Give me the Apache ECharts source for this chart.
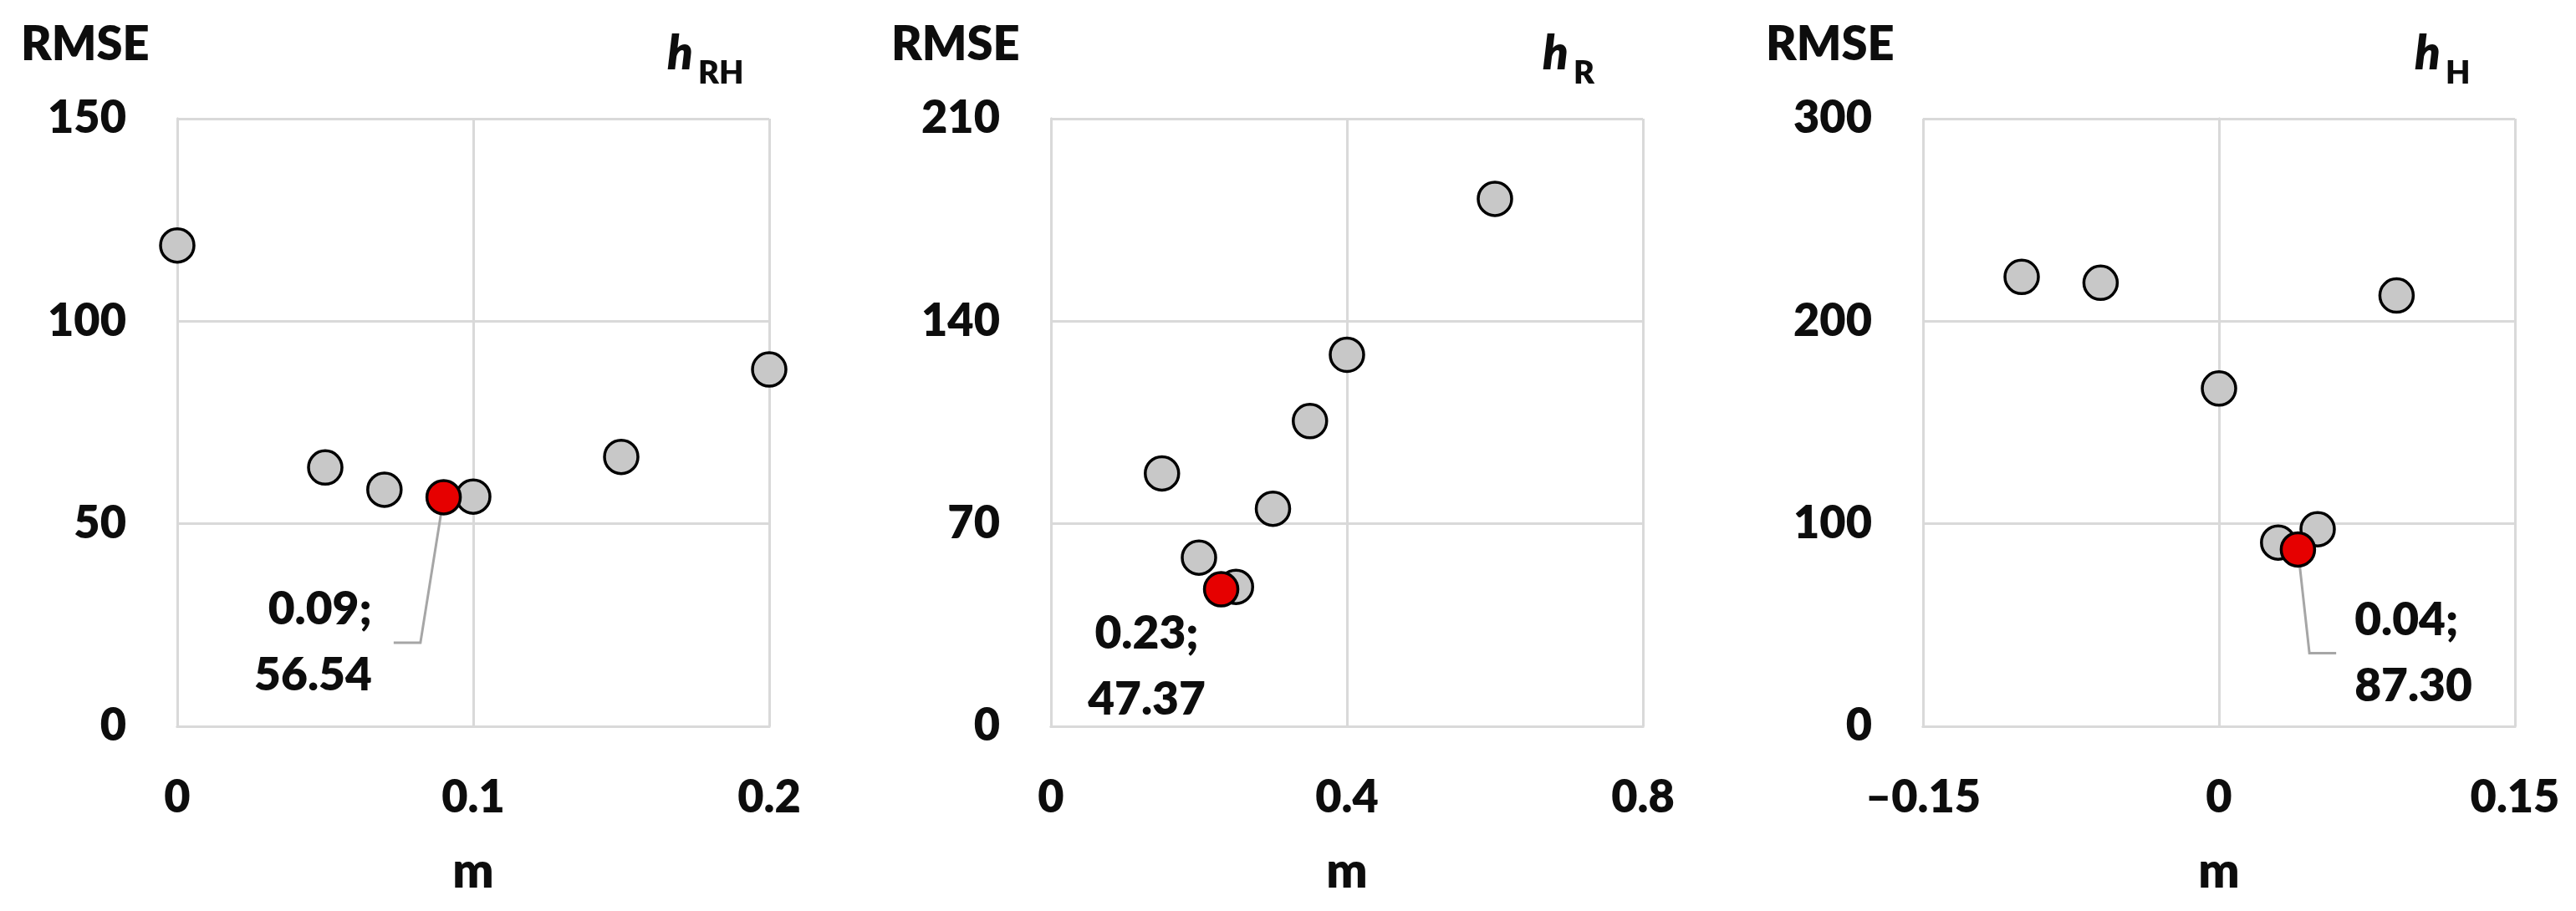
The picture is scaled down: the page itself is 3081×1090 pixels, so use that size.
<!DOCTYPE html>
<html>
<head>
<meta charset="utf-8">
<script src="https://cdn.jsdelivr.net/npm/echarts@6/dist/echarts.min.js"></script>
<style>
  html, body { margin: 0; padding: 0; background: #fff; }
  #chart { width: 3081px; height: 1090px; }
</style>
</head>
<body>
<div id="chart"></div>
<script>
// h_RH panel
const mRH = [0, 0.05, 0.07, 0.10, 0.15, 0.20];
const rmseRH = [118.7, 63.9, 58.4, 56.7, 66.5, 88.1];
const bestRH = [0.09, 56.54];

// h_R panel
const mR = [0.15, 0.20, 0.25, 0.30, 0.35, 0.40, 0.60];
const rmseR = [87.4, 58.3, 48.2, 75.2, 105.5, 128.4, 182.3];
const bestR = [0.23, 47.37];

// h_H panel
const mH = [-0.10, -0.06, 0, 0.03, 0.05, 0.09];
const rmseH = [221.9, 219.0, 166.8, 90.7, 97.3, 212.7];
const bestH = [0.04, 87.30];

// axis ranges: [min, max, interval]
const xRanges = [[0, 0.2, 0.1], [0, 0.8, 0.4], [-0.15, 0.15, 0.15]];
const yRanges = [[0, 150, 50], [0, 210, 70], [0, 300, 100]];
const subs = ['RH', 'R', 'H'];

const FONT = 'Lato';
const W = 800;
const TXT = '#0d0d0d';
const gridLeft = [212, 1257, 2300];
const gridW = 708, gridTop = 142, gridH = 727;
const gridColor = '#d9d9d9';

function zip(xs, ys) {
  return xs.map((x, i) => [x, ys[i]]);
}

function fmtTick(v) {
  if (v < 0) return '\u2013' + String(-v);
  return String(v);
}

let grids = [], xAxes = [], yAxes = [], series = [], graphics = [];

// label placement for the best point in each panel
// (the wide empty padding on the far side keeps the leader line on the near side)
const panels = [
  { pts: zip(mRH, rmseRH), best: bestRH,
    lab: { position: 'left', align: 'right', padding: [0, 26, 0, 160], dx: -38, dy: 174, line: true } },
  { pts: zip(mR, rmseR), best: bestR,
    lab: { position: 'bottom', align: 'center', padding: 0, dx: -89, dy: -8, line: false } },
  { pts: zip(mH, rmseH), best: bestH,
    lab: { position: 'right', align: 'left', padding: [0, 160, 0, 22], dx: 24, dy: 124, line: true } }
];

panels.forEach((p, i) => {
  grids.push({ left: gridLeft[i], top: gridTop, width: gridW, height: gridH });
  xAxes.push({
    type: 'value', gridIndex: i,
    min: xRanges[i][0], max: xRanges[i][1], interval: xRanges[i][2],
    name: 'm', nameLocation: 'middle', nameGap: 145,
    nameTextStyle: { fontFamily: FONT, fontWeight: W, fontSize: 58, color: TXT },
    axisLine: { show: true, lineStyle: { color: gridColor, width: 3 } },
    axisTick: { show: false },
    splitLine: { show: true, lineStyle: { color: gridColor, width: 3 } },
    axisLabel: { fontFamily: FONT, fontWeight: W, fontSize: 54, color: TXT, margin: 59, formatter: fmtTick }
  });
  yAxes.push({
    type: 'value', gridIndex: i,
    min: yRanges[i][0], max: yRanges[i][1], interval: yRanges[i][2],
    axisLine: { show: true, lineStyle: { color: gridColor, width: 3 } },
    axisTick: { show: false },
    splitLine: { show: true, lineStyle: { color: gridColor, width: 3 } },
    axisLabel: { fontFamily: FONT, fontWeight: W, fontSize: 54, color: TXT, margin: 61 }
  });
  // top / right border of the plot area
  xAxes.push({
    type: 'value', gridIndex: i, position: 'top',
    min: xRanges[i][0], max: xRanges[i][1],
    axisLine: { show: true, lineStyle: { color: gridColor, width: 3 } },
    axisTick: { show: false }, axisLabel: { show: false }, splitLine: { show: false }
  });
  yAxes.push({
    type: 'value', gridIndex: i, position: 'right',
    min: yRanges[i][0], max: yRanges[i][1],
    axisLine: { show: true, lineStyle: { color: gridColor, width: 3 } },
    axisTick: { show: false }, axisLabel: { show: false }, splitLine: { show: false }
  });

  series.push({
    type: 'scatter', xAxisIndex: i * 2, yAxisIndex: i * 2,
    data: p.pts, symbolSize: 40,
    itemStyle: { color: '#c8c8c8', borderColor: '#000', borderWidth: 3.5, opacity: 1 },
    emphasis: { disabled: true }
  });
  series.push({
    type: 'scatter', xAxisIndex: i * 2, yAxisIndex: i * 2,
    data: [p.best], symbolSize: 40, z: 3,
    itemStyle: { color: '#e60000', borderColor: '#000', borderWidth: 3.5, opacity: 1 },
    emphasis: { disabled: true },
    label: {
      show: true, position: p.lab.position, distance: 0,
      fontFamily: FONT, fontWeight: W, fontSize: 55, color: TXT,
      lineHeight: 79, align: p.lab.align, padding: p.lab.padding,
      formatter: d => d.value[0].toFixed(2) + ';\n' + d.value[1].toFixed(2)
    },
    labelLayout: { dx: p.lab.dx, dy: p.lab.dy },
    labelLine: { show: p.lab.line, length2: 32, lineStyle: { color: '#a6a6a6', width: 3 } }
  });
});

const rmseX = [25, 1066, 2112];
const hX = [798, 1845, 2888];
rmseX.forEach((x, i) => {
  graphics.push({
    type: 'text', x: x, y: 54,
    style: { text: 'RMSE', fontFamily: FONT, fontWeight: W, fontSize: 56, fill: TXT, verticalAlign: 'middle' }
  });
  graphics.push({
    type: 'text', x: hX[i], y: 65,
    style: { text: 'h', fontFamily: FONT, fontWeight: W, fontStyle: 'italic', fontSize: 56, fill: TXT, verticalAlign: 'middle' }
  });
  graphics.push({
    type: 'text', x: hX[i] + 37, y: 88,
    style: { text: subs[i], fontFamily: FONT, fontWeight: W, fontSize: 38, fill: TXT, verticalAlign: 'middle' }
  });
});

const chart = echarts.init(document.getElementById('chart'));
chart.setOption({
  backgroundColor: '#fff',
  animation: false,
  grid: grids,
  xAxis: xAxes,
  yAxis: yAxes,
  series: series,
  graphic: graphics
});
</script>
</body>
</html>
